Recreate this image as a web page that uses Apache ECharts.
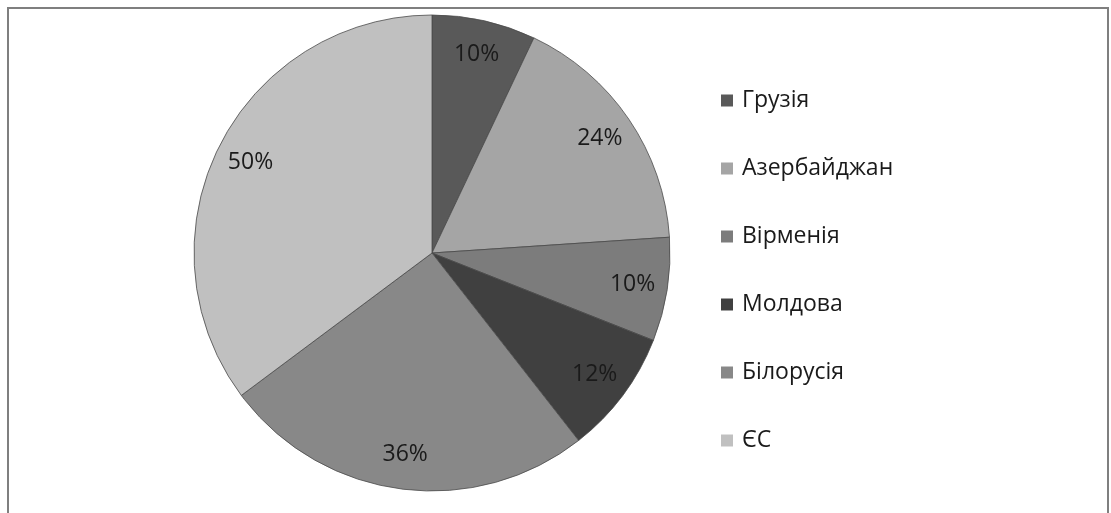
<!DOCTYPE html>
<html>
<head>
<meta charset="utf-8">
<script src="https://cdn.jsdelivr.net/npm/echarts@6/dist/echarts.min.js"></script>
<style>
  html, body { margin: 0; padding: 0; background: #fff; }
  #frame {
    position: absolute; left: 7px; top: 7px; width: 1098px; height: 520px;
    border-left: 2px solid #7f7f7f; border-top: 2px solid #7f7f7f; border-right: 2px solid #7f7f7f;
  }
  #chart { position: absolute; left: 0; top: 0; width: 1111px; height: 513px; }
</style>
</head>
<body>
<div id="frame"></div>
<div id="chart"></div>
<script>
// категорії та значення (у відсотках, як на підписах)
const countries = ['Грузія', 'Азербайджан', 'Вірменія', 'Молдова', 'Білорусія', 'ЄС']
const shares = [10, 24, 10, 12, 36, 50]
const sliceColors = ['#595959', '#a5a5a5', '#7c7c7c', '#404040', '#888888', '#c0c0c0']

const chart = echarts.init(document.getElementById('chart'))

const pieData = countries.map((name, i) => ({
  name,
  value: shares[i],
  itemStyle: { color: sliceColors[i] }
}))

const center = [432, 253]

chart.setOption({
  animation: false,
  color: sliceColors,
  legend: {
    orient: 'vertical',
    left: 716,
    top: 84,
    itemWidth: 12,
    itemHeight: 12,
    itemGap: 45,
    icon: 'rect',
    itemStyle: { borderWidth: 0 },
    data: countries,
    textStyle: {
      fontFamily: 'Open Sans',
      fontSize: 23,
      color: '#1a1a1a',
      padding: [0, 0, 0, 4]
    }
  },
  series: [
    {
      // основна кругова діаграма
      type: 'pie',
      center,
      radius: 238,
      startAngle: 90,
      clockwise: true,
      label: { show: false },
      labelLine: { show: false },
      itemStyle: { borderColor: '#4a4a4a', borderWidth: 0.8 },
      emphasis: { disabled: true },
      data: pieData
    },
    {
      // прозоре кільце лише для підписів ближче до краю
      type: 'pie',
      center,
      radius: [162, 238],
      startAngle: 90,
      clockwise: true,
      silent: true,
      legendHoverLink: false,
      itemStyle: { color: 'rgba(0,0,0,0)', borderWidth: 0 },
      label: {
        show: true,
        position: 'inside',
        formatter: '{c}%',
        fontFamily: 'Open Sans',
        fontSize: 23,
        color: '#1a1a1a'
      },
      labelLine: { show: false },
      emphasis: { disabled: true },
      data: countries.map((name, i) => ({ name, value: shares[i] }))
    }
  ]
})
</script>
</body>
</html>
